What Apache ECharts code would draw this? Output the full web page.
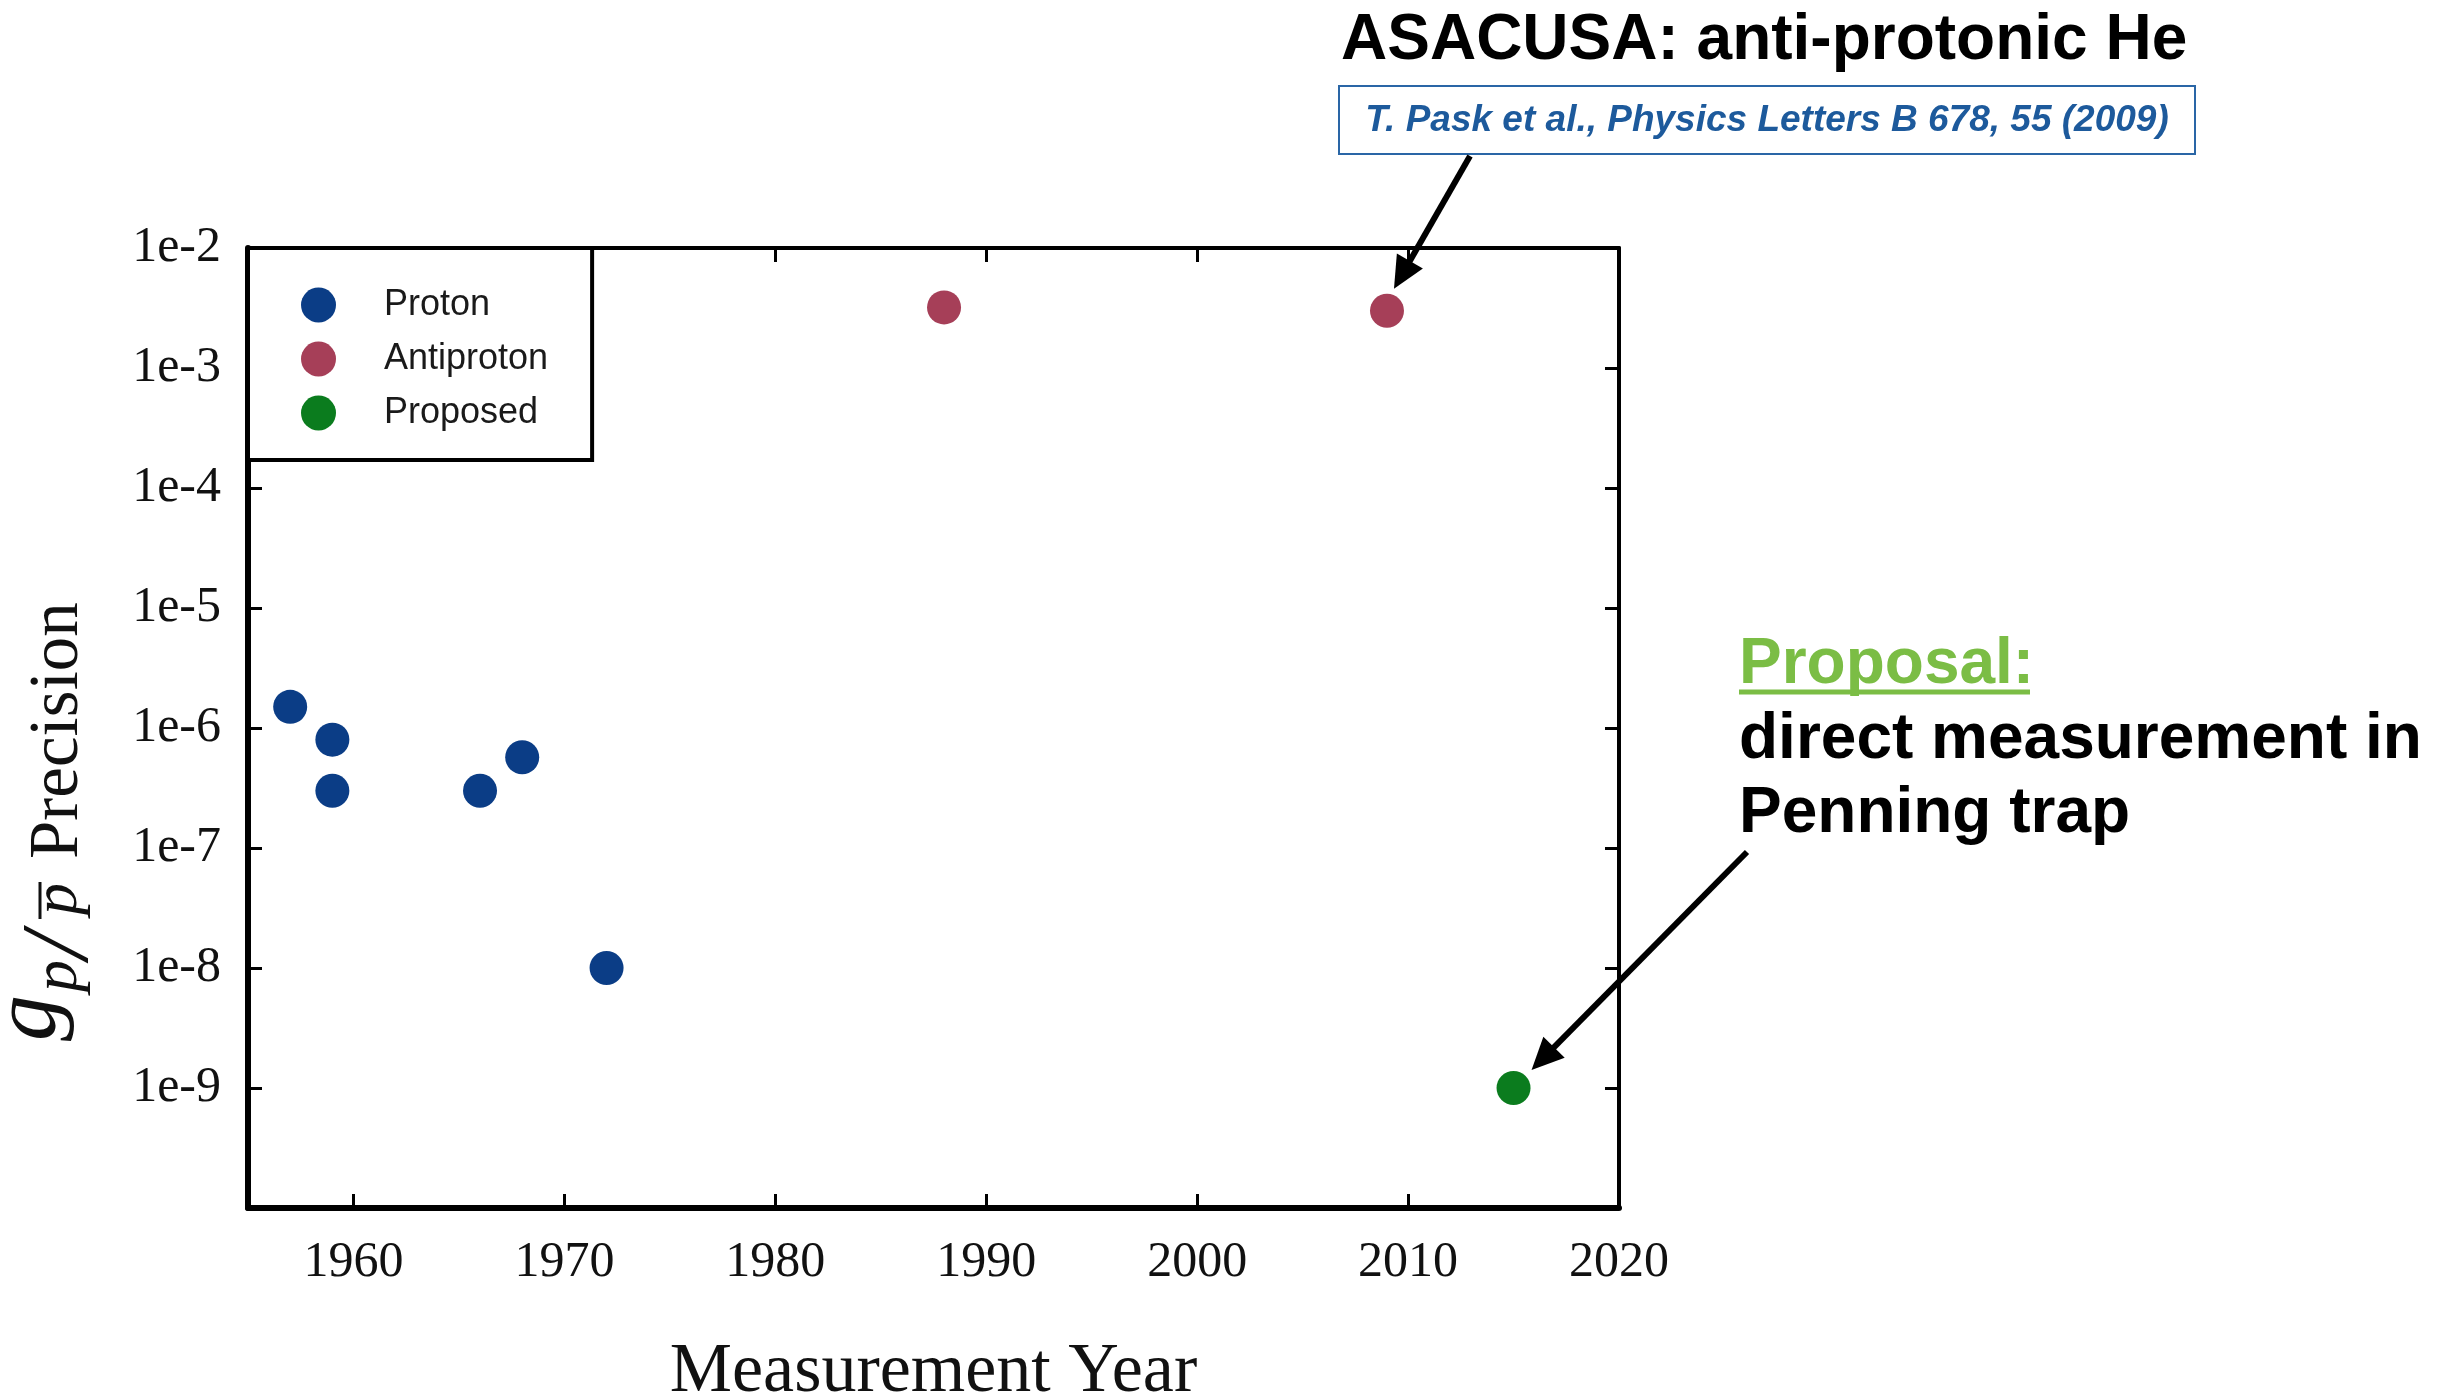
<!DOCTYPE html>
<html>
<head>
<meta charset="utf-8">
<script src="https://cdn.jsdelivr.net/npm/echarts@6/dist/echarts.min.js"></script>
<style>
  html, body { margin: 0; padding: 0; background: #fff; }
  #chart { width: 2451px; height: 1392px; }
</style>
</head>
<body>
<div id="chart"></div>
<script>
// g-factor precision of proton / antiproton measurements by year
const protonYear = [1957, 1959, 1959, 1966, 1968, 1972];
const protonPrecision = [1.5e-6, 8e-7, 3e-7, 3e-7, 5.7e-7, 1e-8];
const antiprotonYear = [1988, 2009];
const antiprotonPrecision = [3.2e-3, 3.0e-3];
const proposedYear = [2015];
const proposedPrecision = [1e-9];

const yearTicks = [1960, 1970, 1980, 1990, 2000, 2010];
const yearLabels = [1960, 1970, 1980, 1990, 2000, 2010, 2020];
const seriesNames = ['Proton', 'Antiproton', 'Proposed'];
const seriesColors = ['#0b3d86', '#a63f58', '#0b7c1e'];

const SERIF = '"Liberation Serif", "Times New Roman", serif';
const SANS = '"Liberation Sans", Arial, Helvetica, sans-serif';

function pairs(xs, ys) { return xs.map((x, i) => [x, ys[i]]); }
function expLabel(v) {
  const e = Math.round(Math.log10(v));
  return e <= -10 ? '' : '1e' + e;
}

const chart = echarts.init(document.getElementById('chart'), null, { renderer: 'canvas' });

function xAxisDef(position, lineWidth, showLabels) {
  return {
    type: 'value', position: position, min: 1955, max: 2020,
    splitLine: { show: false },
    axisLine: { show: true, onZero: false, lineStyle: { color: '#000', width: lineWidth } },
    axisTick: { show: true, inside: true, length: 14, customValues: yearTicks,
                lineStyle: { color: '#000', width: 3 } },
    axisLabel: showLabels ? {
      show: true, customValues: yearLabels, margin: 30,
      formatter: (v) => String(Math.round(v)),
      fontFamily: SERIF, fontSize: 50, color: '#111'
    } : { show: false },
    name: showLabels ? 'Measurement Year' : '',
    nameLocation: 'middle', nameGap: 130,
    nameTextStyle: { fontFamily: SERIF, fontSize: 70, color: '#111' }
  };
}

function yAxisDef(position, lineWidth, showLabels) {
  return {
    type: 'log', logBase: 10, position: position, min: 1e-10, max: 1e-2,
    splitLine: { show: false },
    axisLine: { show: true, onZero: false, lineStyle: { color: '#000', width: lineWidth } },
    axisTick: { show: true, inside: true, length: 14, lineStyle: { color: '#000', width: 3 } },
    axisLabel: showLabels ? {
      show: true, margin: 27, formatter: expLabel,
      fontFamily: SERIF, fontSize: 50, color: '#111'
    } : { show: false }
  };
}

const option = {
  animation: false,
  backgroundColor: '#fff',
  grid: {
    left: 248, right: 2451 - 1619, top: 248, bottom: 1392 - 1208,
    containLabel: false, outerBoundsMode: 'none'
  },
  xAxis: [xAxisDef('bottom', 6, true), xAxisDef('top', 4, false)],
  yAxis: [yAxisDef('left', 6, true), yAxisDef('right', 4, false)],
  legend: {
    orient: 'vertical', left: 248, top: 248,
    data: seriesNames, icon: 'circle',
    itemWidth: 35, itemHeight: 35, itemGap: 18,
    padding: [39, 44, 29, 53],
    borderColor: '#000', borderWidth: 4, backgroundColor: '#fff',
    selectedMode: false,
    textStyle: { fontFamily: SANS, fontSize: 36, color: '#1a1a1a', padding: [0, 0, 0, 43] }
  },
  series: [
    { name: seriesNames[0], data: pairs(protonYear, protonPrecision) },
    { name: seriesNames[1], data: pairs(antiprotonYear, antiprotonPrecision) },
    { name: seriesNames[2], data: pairs(proposedYear, proposedPrecision) }
  ].map((s, i) => ({
    type: 'scatter', name: s.name, data: s.data,
    xAxisIndex: 0, yAxisIndex: 0,
    symbol: 'circle', symbolSize: 34,
    itemStyle: { color: seriesColors[i], opacity: 1 },
    emphasis: { disabled: true }
  }))
};

chart.setOption(option);

// Arrow: shaft from tail to base of a filled triangular head at tip
function arrow(tail, tip, head, halfW, width) {
  const dx = tip[0] - tail[0], dy = tip[1] - tail[1];
  const len = Math.hypot(dx, dy);
  const ux = dx / len, uy = dy / len;
  const bx = tip[0] - ux * head, by = tip[1] - uy * head;
  return [
    { type: 'line', silent: true,
      shape: { x1: tail[0], y1: tail[1], x2: bx + ux * 3, y2: by + uy * 3 },
      style: { stroke: '#000', lineWidth: width } },
    { type: 'polygon', silent: true,
      shape: { points: [tip, [bx - uy * halfW, by + ux * halfW], [bx + uy * halfW, by - ux * halfW]] },
      style: { fill: '#000' } }
  ];
}

function label(x, y, text, opts) {
  return {
    type: 'text', x: x, y: y, silent: true,
    style: Object.assign({
      text: text, fontFamily: SANS, fontSize: 64, fontWeight: 'bold',
      fill: '#000', align: 'left', verticalAlign: 'middle'
    }, opts || {})
  };
}

function mathGlyph(x, y, text, size) {
  return { type: 'text', x: x, y: y, style: { text: text, fontFamily: SERIF, fontStyle: 'italic',
    fontSize: size, fill: '#111', align: 'left', verticalAlign: 'middle' } };
}

const asacusa = chart.convertToPixel({ xAxisIndex: 0, yAxisIndex: 0 },
  [antiprotonYear[1], antiprotonPrecision[1]]);
const proposal = chart.convertToPixel({ xAxisIndex: 0, yAxisIndex: 0 },
  [proposedYear[0], proposedPrecision[0]]);

const graphics = [
  // y-axis title: g_{p / p-bar} Precision, reading bottom to top
  {
    type: 'group', x: 0, y: 1043, rotation: Math.PI / 2, silent: true,
    children: [
      mathGlyph(2, 31, 'g', 92),
      mathGlyph(51, 59, 'p', 64),
      mathGlyph(84, 62, '/', 96),
      mathGlyph(128, 59, 'p', 64),
      { type: 'line', shape: { x1: 124, y1: 40, x2: 161, y2: 40 },
        style: { stroke: '#111', lineWidth: 3 } },
      { type: 'text', x: 184, y: 58.5, style: { text: 'Precision', fontFamily: SERIF,
          fontSize: 69, fill: '#111', align: 'left', verticalAlign: 'middle' } }
    ]
  },
  // ASACUSA annotation
  label(1341, 41, 'ASACUSA: anti-protonic He'),
  { type: 'rect', silent: true, shape: { x: 1339, y: 86, width: 856, height: 68 },
    style: { fill: '#fff', stroke: '#2a66a6', lineWidth: 2 } },
  label(1767, 121, 'T. Pask et al., Physics Letters B 678, 55 (2009)',
    { fontSize: 37, fontStyle: 'italic', fill: '#1d5a9c', align: 'center' }),
  ...arrow([1470, 156], [asacusa[0] + 7, asacusa[1] - 22], 32, 15, 6),
  // Proposal annotation
  label(1739, 665, 'Proposal:', { fill: '#7bbd45' }),
  { type: 'line', silent: true, shape: { x1: 1739, y1: 692, x2: 2030, y2: 692 },
    style: { stroke: '#7bbd45', lineWidth: 5 } },
  label(1739, 740, 'direct measurement in'),
  label(1739, 814, 'Penning trap'),
  ...arrow([1747, 852], [proposal[0] + 18, proposal[1] - 18], 32, 15, 6)
];

chart.setOption({ graphic: graphics });
</script>
</body>
</html>
